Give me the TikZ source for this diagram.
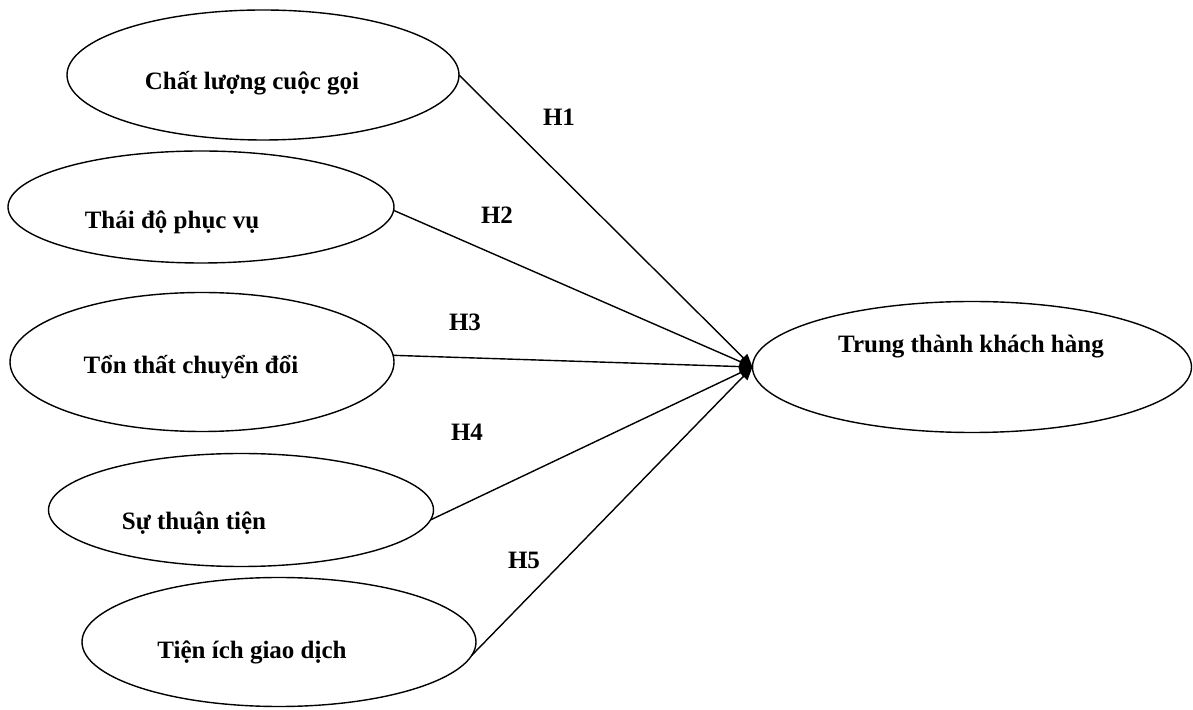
\documentclass[tikz,border=0pt]{standalone}
\usepackage{fontspec}
\setmainfont{Liberation Serif}
\usetikzlibrary{shapes.geometric,arrows.meta}
\begin{document}
\begin{tikzpicture}[x=1pt,y=1pt,
  oval/.style={ellipse,draw,line width=1.4pt,inner sep=0pt,outer sep=0pt},
  lbl/.style={font=\fontsize{25}{30}\selectfont\bfseries,inner sep=0pt},
  link/.style={line width=1.4pt,-{Triangle[length=13pt,width=11pt]}}]
\useasboundingbox (0,0) rectangle (1193,709);
\node[oval,minimum width=392pt,minimum height=130pt] (e1) at (263,634) {};
\node[oval,minimum width=386pt,minimum height=112pt] (e2) at (201,502) {};
\node[oval,minimum width=384pt,minimum height=139pt] (e3) at (202,347) {};
\node[oval,minimum width=385pt,minimum height=113pt] (e4) at (241,199) {};
\node[oval,minimum width=394pt,minimum height=129pt] (e5) at (279,67) {};
\node[oval,minimum width=439pt,minimum height=131pt] (e6) at (972,342) {};
\node[lbl] (t1) at (252,626) {Chất lượng cuộc gọi};
\node[lbl] (t2) at (172,487) {Thái độ phục vụ};
\node[lbl] (t3) at (191,342) {Tổn thất chuyển đổi};
\node[lbl] (t4) at (194,186) {Sự thuận tiện};
\node[lbl] (t5) at (252,57) {Tiện ích giao dịch};
\node[lbl] (t6) at (971,362) {Trung thành khách hàng};
\draw[link] (e1.0.3) -- (e6.west);
\draw[link] (e2.-1.8) -- (e6.west);
\draw[link] (e3.2.4) -- (e6.west);
\draw[link] (e4.-3) -- (e6.west);
\draw[link] (e5.-4.5) -- (e6.west);
\node[lbl] (h1) at (559,592) {H1};
\node[lbl] (h2) at (497,494) {H2};
\node[lbl] (h3) at (465,387) {H3};
\node[lbl] (h4) at (467,277) {H4};
\node[lbl] (h5) at (524,149) {H5};
\end{tikzpicture}
\end{document}
